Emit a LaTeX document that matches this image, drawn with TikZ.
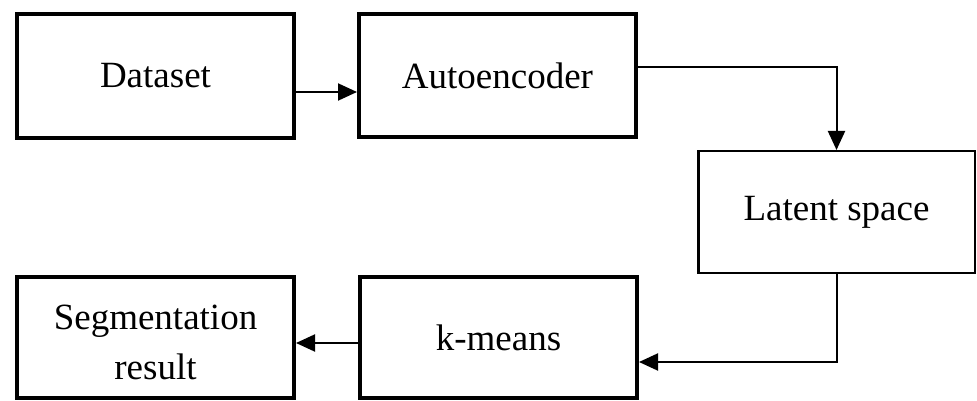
\documentclass[tikz,border=0pt]{standalone}
\usepackage{fontspec}
\setmainfont{Liberation Serif}
\usetikzlibrary{arrows.meta}
\begin{document}
\begin{tikzpicture}[x=1pt,y=-1pt,
  thickbox/.style={draw=black,line width=4pt,inner sep=0pt,minimum width=277pt,align=center,font=\fontsize{37}{50}\selectfont},
  thinbox/.style={draw=black,line width=2.5pt,inner sep=0pt,minimum width=276.5pt,align=center,font=\fontsize{37}{50}\selectfont},
  arr/.style={draw=black,line width=2pt,-{Triangle[length=19pt,width=17pt]}}]
\useasboundingbox (0,0) rectangle (977,401);
\node[thickbox,minimum height=124pt] (ds) at (155.5,76) {Dataset};
\node[thickbox,minimum height=123pt] (ae) at (497.5,75.5) {Autoencoder};
\node[thinbox,minimum height=121.5pt] (ls) at (836.5,212) {Latent space};
\node[thickbox,minimum height=121pt] (km) at (498.5,337.5) {k-means};
\node[thickbox,minimum height=121pt] (sg) at (155.5,337.5) {\raisebox{-5pt}[\height][\depth]{\parbox{260pt}{\centering Segmentation\\result}}};
\coordinate (a1) at ([yshift=-16pt]ds.east);
\draw[arr] (a1) -- (a1 -| ae.west);
\coordinate (a2) at ([yshift=8.5pt]ae.east);
\draw[arr] (a2) -| (ls.north);
\coordinate (a3) at ([yshift=-24.5pt]km.east);
\draw[arr] (ls.south) |- (a3);
\coordinate (a4) at ([yshift=-5.5pt]km.west);
\draw[arr] (a4) -- (a4 -| sg.east);
\end{tikzpicture}
\end{document}
